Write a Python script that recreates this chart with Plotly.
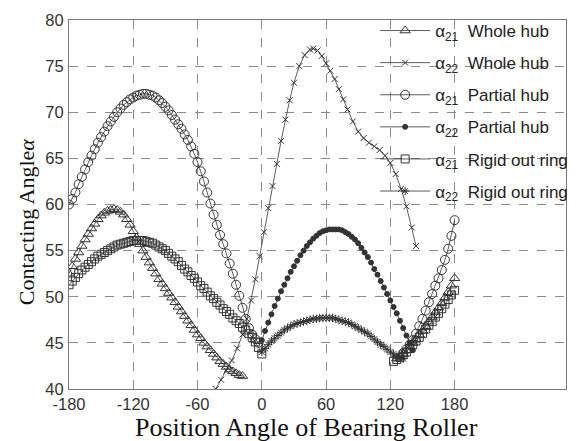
import numpy as np
import plotly.graph_objects as go

# ---------------- data ----------------
# alpha21, whole hub (triangles)
ang_wh21_l = np.arange(-180, -17, 3)
wh21_l = [52.5, 53.3, 54.1, 54.8, 55.5, 56.2, 56.8, 57.4, 57.9, 58.4,
          58.8, 59.1, 59.3, 59.4, 59.5, 59.4, 59.2, 58.9, 58.4, 57.8,
          57.1, 56.4, 55.7, 55.0, 54.3, 53.7, 53.1, 52.5, 51.9, 51.4,
          50.9, 50.4, 49.9, 49.4, 48.9, 48.4, 47.9, 47.4, 46.9, 46.4,
          45.9, 45.5, 45.0, 44.6, 44.2, 43.8, 43.4, 43.0, 42.7, 42.4,
          42.1, 41.9, 41.7, 41.5, 41.4]
ang_wh21_r = np.arange(126, 181, 3)
wh21_r = [43.3, 43.5, 43.8, 44.2, 44.6, 45.0, 45.4, 45.9, 46.3, 46.8,
          47.3, 47.8, 48.3, 48.8, 49.3, 49.9, 50.5, 51.2, 52.0]

# alpha22, whole hub (x marks)
ang_wh22 = [-43, -38, -33, -28, -23, -18, -14, -10, -6, -2, 2, 6, 10, 14, 18,
            22, 26, 30, 35, 40, 45, 48, 52, 56, 60, 64, 68, 72, 76, 80, 85,
            90, 95, 100, 105, 110, 115, 120, 125, 130, 135, 140, 144]
wh22 = [40.0, 41.0, 42.0, 43.1, 44.4, 45.9, 47.6, 49.6, 51.9, 54.4, 57.0,
        59.6, 62.0, 64.4, 66.9, 69.2, 71.3, 73.2, 75.0, 76.2, 76.8, 76.9,
        76.7, 76.1, 75.3, 74.5, 73.6, 72.5, 71.4, 70.3, 69.0, 67.9, 67.2,
        66.7, 66.3, 65.9, 65.3, 64.5, 63.3, 61.7, 59.8, 57.5, 55.5]

# alpha21, partial hub (open circles)
ang_ph21_l = np.arange(-180, -2, 3)
ph21_l = [60.0, 60.6, 61.3, 62.2, 63.0, 63.8, 64.6, 65.3, 66.0, 66.7,
          67.3, 67.9, 68.5, 69.0, 69.5, 70.0, 70.4, 70.8, 71.1, 71.4,
          71.6, 71.8, 71.9, 72.0, 72.0, 71.9, 71.8, 71.6, 71.3, 71.0,
          70.6, 70.2, 69.7, 69.2, 68.7, 68.2, 67.6, 67.0, 66.3, 65.5,
          64.6, 63.6, 62.5, 61.3, 60.1, 58.9, 57.8, 56.7, 55.7, 54.7,
          53.6, 52.5, 51.3, 50.1, 48.8, 47.6, 46.6, 45.9, 45.4, 45.0]
ang_ph21_r = np.arange(132, 181, 3)
ph21_r = [43.9, 44.3, 44.8, 45.3, 46.0, 46.8, 47.6, 48.5, 49.4, 50.3,
          51.2, 52.0, 52.9, 54.0, 55.2, 56.6, 58.3]

# alpha22, partial hub (filled dots)
ang_ph22 = np.arange(0, 142, 3)
ph22 = [45.3, 46.3, 47.2, 48.1, 49.0, 49.8, 50.6, 51.3, 52.0, 52.7,
        53.3, 53.9, 54.5, 55.0, 55.5, 55.9, 56.3, 56.6, 56.9, 57.1,
        57.2, 57.3, 57.3, 57.3, 57.3, 57.2, 57.0, 56.8, 56.5, 56.2,
        55.8, 55.3, 54.8, 54.3, 53.7, 53.0, 52.4, 51.7, 51.0, 50.3,
        49.6, 48.9, 48.2, 47.4, 46.6, 45.8, 45.0, 44.2]

# alpha21, rigid out ring (open squares)
ang_rr21_l = np.arange(-180, 1, 3)
rr21_l = [51.3, 51.7, 52.1, 52.5, 52.9, 53.2, 53.5, 53.8, 54.1, 54.4,
          54.6, 54.8, 55.0, 55.2, 55.4, 55.6, 55.7, 55.8, 55.9, 56.0,
          56.1, 56.1, 56.1, 56.1, 56.0, 55.9, 55.8, 55.6, 55.4, 55.2,
          55.0, 54.7, 54.4, 54.1, 53.8, 53.4, 53.0, 52.7, 52.3, 52.0,
          51.6, 51.2, 50.9, 50.5, 50.1, 49.8, 49.4, 49.1, 48.7, 48.4,
          48.1, 47.7, 47.4, 47.1, 46.7, 46.4, 46.0, 45.6, 45.1, 44.5,
          43.8]
ang_rr21_r = np.arange(123, 181, 3)
rr21_r = [43.0, 43.2, 43.4, 43.7, 44.0, 44.4, 44.8, 45.2, 45.6, 46.0,
          46.5, 46.9, 47.3, 47.8, 48.2, 48.7, 49.2, 49.7, 50.2, 50.7]

# alpha22, rigid out ring (asterisks)
ang_rr22 = np.arange(0, 133, 3)
rr22 = [44.0, 44.4, 44.8, 45.2, 45.5, 45.8, 46.1, 46.4, 46.6, 46.8,
        47.0, 47.1, 47.2, 47.3, 47.4, 47.5, 47.6, 47.6, 47.7, 47.7,
        47.7, 47.7, 47.7, 47.6, 47.5, 47.4, 47.3, 47.2, 47.0, 46.8,
        46.6, 46.4, 46.2, 46.0, 45.7, 45.4, 45.1, 44.8, 44.6, 44.3,
        44.0, 43.8, 43.5, 43.4, 43.3]

x_ticks = [-180, -120, -60, 0, 60, 120, 180]
y_ticks = [40, 45, 50, 55, 60, 65, 70, 75, 80]

names = ["α<sub>21</sub>  Whole hub", "α<sub>22</sub>  Whole hub",
         "α<sub>21</sub>  Partial hub", "α<sub>22</sub>  Partial hub",
         "α<sub>21</sub>  Rigid out ring", "α<sub>22</sub>  Rigid out ring"]

# ----------------------------------------------------------------
def join(a1, v1, a2=None, v2=None):
    assert len(a1) == len(v1), (len(a1), len(v1))
    xs, ys = list(a1), list(v1)
    if a2 is not None:
        assert len(a2) == len(v2), (len(a2), len(v2))
        xs += [None] + list(a2)
        ys += [None] + list(v2)
    return xs, ys

INK = "#333333"
series = [
    (join(ang_wh21_l, wh21_l, ang_wh21_r, wh21_r), "triangle-up-open", 9),
    (join(ang_wh22, wh22), "x-thin-open", 6),
    (join(ang_ph21_l, ph21_l, ang_ph21_r, ph21_r), "circle-open", 9),
    (join(ang_ph22, ph22), "circle", 5),
    (join(ang_rr21_l, rr21_l, ang_rr21_r, rr21_r), "square-open", 8),
    (join(ang_rr22, rr22), "asterisk-open", 7),
]

fig = go.Figure()
for i, ((xs, ys), sym, sz) in enumerate(series):
    fig.add_trace(go.Scatter(
        x=xs, y=ys, mode="lines+markers", name=names[i],
        legendgroup=f"g{i}",
        line=dict(color=INK, width=0.8),
        marker=dict(symbol=sym, size=sz, color=INK,
                    line=dict(color=INK, width=1)),
        connectgaps=False,
    ))

axis_common = dict(
    showline=True, linecolor="#777777", linewidth=1, mirror=True,
    showgrid=True, gridcolor="#8a8a8a", griddash="dash", gridwidth=1,
    zeroline=False, ticks="",
    tickfont=dict(family="Liberation Sans, Arial, sans-serif", size=16.5,
                  color="#333333"),
)

fig.update_xaxes(range=[-180, 284], tickmode="array", tickvals=x_ticks,
                 ticktext=[str(v) for v in x_ticks], **axis_common)
fig.update_yaxes(range=[40, 80], tickmode="array", tickvals=y_ticks,
                 ticktext=[str(v) for v in y_ticks], ticklabelstandoff=1,
                 **axis_common)

fig.update_layout(
    width=584, height=441,
    margin=dict(l=69, r=11, t=17, b=52),
    paper_bgcolor="white", plot_bgcolor="white",
    showlegend=True,
    legend=dict(x=0.616, xanchor="left", y=1.019, yanchor="top",
                bgcolor="rgba(0,0,0,0)", borderwidth=0,
                tracegroupgap=7, itemwidth=50,
                font=dict(family="Liberation Sans, Arial, sans-serif",
                          size=17, color="#222222")),
    annotations=[
        dict(text="Position Angle of Bearing Roller", xref="paper",
             yref="paper", x=0.478, y=-0.103, xanchor="center",
             yanchor="middle", showarrow=False,
             font=dict(family="Liberation Serif, Times New Roman, serif",
                       size=26, color="#111111")),
        dict(text="Contacting Angle<i>α</i>", xref="paper", yref="paper",
             x=-0.085, y=0.454, xanchor="center", yanchor="middle",
             textangle=-90, showarrow=False,
             font=dict(family="Liberation Serif, Times New Roman, serif",
                       size=22, color="#111111")),
    ],
)

# remove the browser's default 8px page margin so the figure sits at (0, 0)
fig.write_html("out.html",
               config={"displayModeBar": False},
               post_script="document.body.style.margin='0';"
                           "document.body.style.overflow='hidden';")
